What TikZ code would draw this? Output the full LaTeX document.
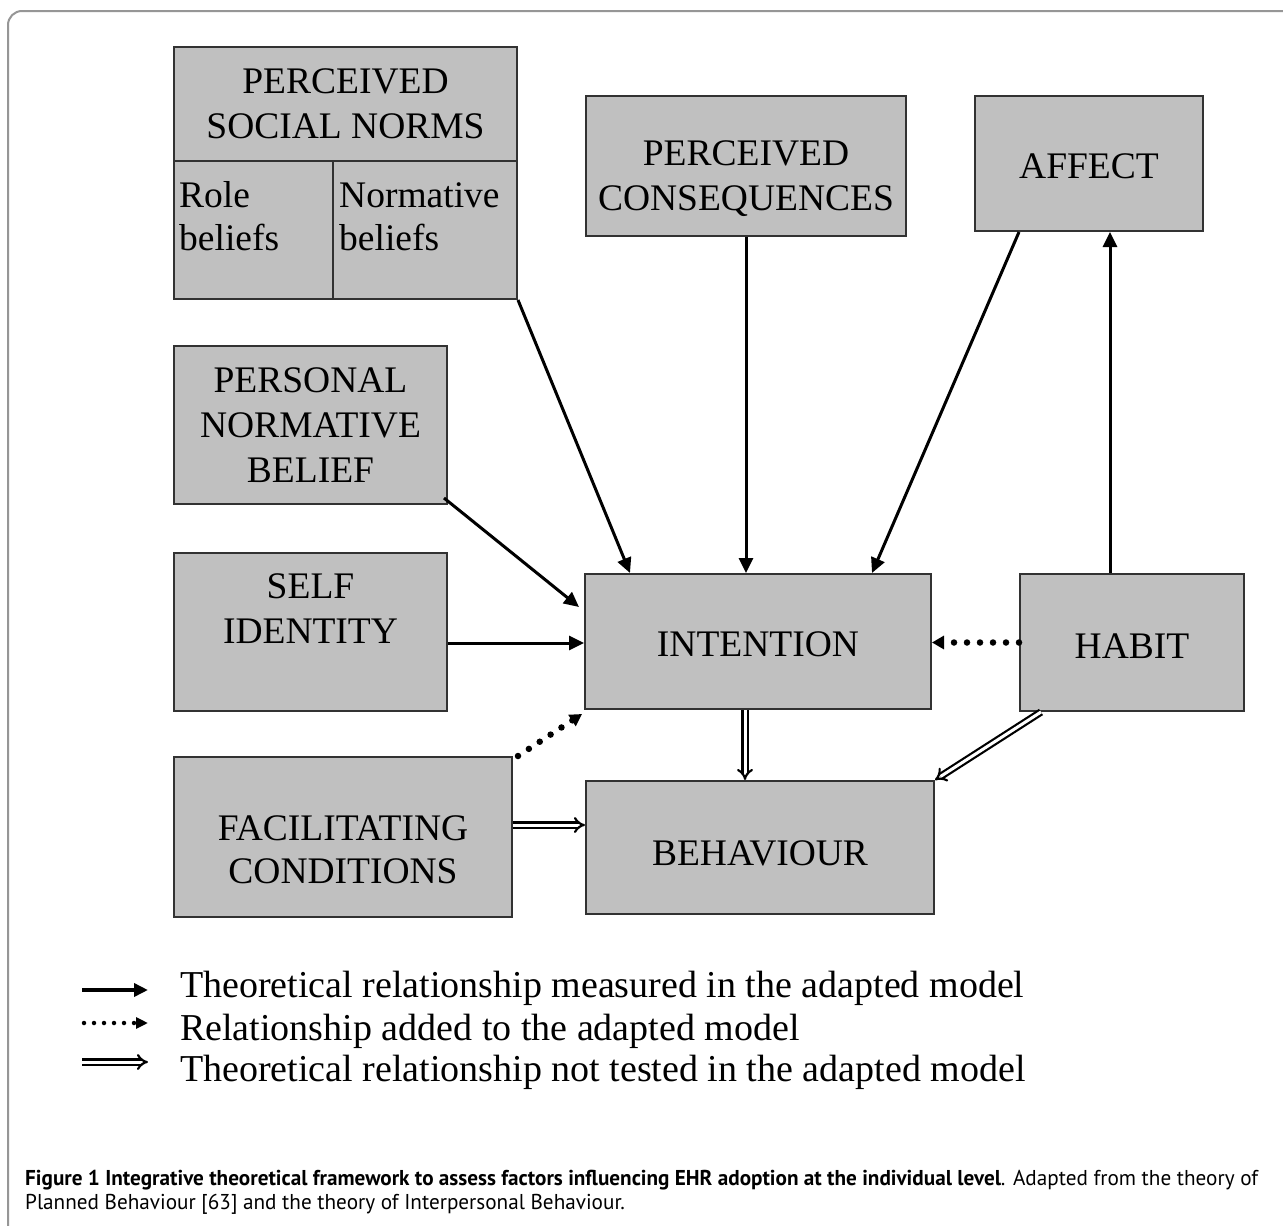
\documentclass[tikz,border=0pt]{standalone}
\usepackage{fontspec}
\setmainfont{Liberation Serif}
\newfontfamily\capfont{PT Sans}
\usetikzlibrary{arrows.meta,calc}
\definecolor{boxgray}{RGB}{192,192,192}
\definecolor{edgegray}{RGB}{50,50,50}
\definecolor{framegray}{RGB}{150,150,150}
\newlength\capw
\newcommand\capline{\textbf{Figure 1 Integrative theoretical framework to assess factors influencing EHR adoption at the individual level}. Adapted from the theory of}
\begin{document}
\settowidth\capw{\capfont\fontsize{21.5}{27}\selectfont\capline}
\pgfmathsetmacro\capsx{1233/\capw}
\begin{tikzpicture}[x=1pt,y=-1pt,
  box/.style={rectangle,draw=edgegray,fill=boxgray,line width=2pt,inner sep=0pt},
  txt/.style={anchor=base,inner sep=0pt,font=\fontsize{37.5}{45}\selectfont},
  txtw/.style={anchor=base west,inner sep=0pt,font=\fontsize{37.5}{45}\selectfont},
  lgd/.style={anchor=base west,inner sep=0pt,font=\fontsize{38}{45}\selectfont},
  capt/.style={anchor=base west,inner sep=0pt},
  solidarr/.style={line width=3pt,-{Triangle[length=15pt,width=14pt]}},
  dotarr/.style={line width=6.5pt,line cap=round,dash pattern=on 0pt off 13pt,-{Triangle[length=12pt,width=13pt]}},
  dblarr/.style={line width=2.2pt,double=white,double distance=3pt,-{Implies[scale=1.3]}},
  lsolid/.style={line width=3.5pt,-{Triangle[length=14pt,width=13pt]}},
  ldot/.style={line width=4.5pt,line cap=round,dash pattern=on 0pt off 10pt,-{Triangle[length=12pt,width=11pt]}},
  ldbl/.style={line width=2.2pt,double=white,double distance=3pt,-{Implies[scale=1.3]}}
]
\useasboundingbox (0,0) rectangle (1283,1226);
\fill[white] (0,0) rectangle (1283,1226);
% frame
\draw[framegray,line width=2pt,rounded corners=14pt] (8,1240) -- (8,11) -- (1300,11);

% boxes
\node[box,minimum width=343pt,minimum height=252pt] (psn) at (345.5,173) {};
\node[box,minimum width=320pt,minimum height=140pt] (pc) at (746,166) {};
\node[box,minimum width=228pt,minimum height=135pt] (aff) at (1089,163.5) {};
\node[box,minimum width=273pt,minimum height=158pt] (pnb) at (310.5,425) {};
\node[box,minimum width=273pt,minimum height=158pt] (self) at (310.5,632) {};
\node[box,minimum width=346pt,minimum height=135pt] (int) at (758,641.5) {};
\node[box,minimum width=224pt,minimum height=137pt] (hab) at (1132,642.5) {};
\node[box,minimum width=338pt,minimum height=160pt] (fc) at (343,837) {};
\node[box,minimum width=348pt,minimum height=133pt] (beh) at (760,847.5) {};

% PSN dividers
\draw[edgegray,line width=2pt] ($(psn.north west)+(0,115)$) -- ($(psn.north east)+(0,115)$);
\draw[edgegray,line width=2pt] ($(psn.north west)+(160,115)$) -- ($(psn.south west)+(160,0)$);

% texts
\node[txt] (psn1) at (345.5,93) {PERCEIVED};
\node[txt] (psn2) at (345.5,138) {SOCIAL NORMS};
\node[txtw] (rb1) at (179,207) {Role};
\node[txtw] (rb2) at (179,250) {beliefs};
\node[txtw] (nb1) at (339,207) {Normative};
\node[txtw] (nb2) at (339,250) {beliefs};
\node[txt] (pc1) at (746,165) {PERCEIVED};
\node[txt] (pc2) at (746,210) {CONSEQUENCES};
\node[txt] (aff1) at (1089,178) {AFFECT};
\node[txt] (pnb1) at (310.5,392) {PERSONAL};
\node[txt] (pnb2) at (310.5,437) {NORMATIVE};
\node[txt] (pnb3) at (310.5,482) {BELIEF};
\node[txt] (self1) at (310.5,598) {SELF};
\node[txt] (self2) at (310.5,643) {IDENTITY};
\node[txt] (int1) at (758,656) {INTENTION};
\node[txt] (hab1) at (1132,658) {HABIT};
\node[txt] (fc1) at (343,840) {FACILITATING};
\node[txt] (fc2) at (343,883) {CONDITIONS};
\node[txt] (beh1) at (760,865) {BEHAVIOUR};

% connectors
\coordinate (hA) at ($(hab.north west)+(91,0)$);
\coordinate (iB) at ($(int.south west)+(161,0)$);
\coordinate (fC) at ($(fc.east)+(0,-12)$);
\coordinate (sD) at ($(self.east)+(0,11)$);
\draw[solidarr] (psn.south east) -- ($(int.north west)+(46,0)$);
\draw[solidarr] (pc.south) -- (int.north -| pc.south);
\draw[solidarr] ($(aff.south west)+(45,0)$) -- ($(int.north west)+(288,0)$);
\draw[solidarr] ($(pnb.south east)+(-4,-7)$) -- ($(int.north west)+(-5,34)$);
\draw[solidarr] (sD) -- (int.west |- sD);
\draw[dotarr] ($(fc.north east)+(5,0)$) -- ($(int.south west)+(-2,4)$);
\draw[dotarr] (hab.west) -- (int.east |- hab.west);
\draw[solidarr] (hA) -- (aff.south -| hA);
\draw[dblarr] (iB) -- (beh.north -| iB);
\draw[dblarr] ($(hab.south west)+(22,0)$) -- (beh.north east);
\draw[dblarr] (fC) -- (beh.west |- fC);

% legend
\coordinate (l1s) at (82,990); \coordinate (l1e) at (148,990);
\coordinate (l2s) at (84,1023); \coordinate (l2e) at (148,1023);
\coordinate (l3s) at (82,1062); \coordinate (l3e) at (148,1062);
\draw[lsolid] (l1s) -- (l1e);
\draw[ldot] (l2s) -- (l2e);
\draw[ldbl] (l3s) -- (l3e);
\node[lgd] (lg1) at (180,997) {Theoretical relationship measured in the adapted model};
\node[lgd] (lg2) at (180,1040) {Relationship added to the adapted model};
\node[lgd] (lg3) at (180,1081) {Theoretical relationship not tested in the adapted model};

% caption
\node[capt] (cap1) at (25,1185) {\scalebox{\capsx}[1]{\capfont\fontsize{21.5}{27}\selectfont\capline}};
\node[capt] (cap2) at (25,1209) {\scalebox{\capsx}[1]{\capfont\fontsize{21.5}{27}\selectfont Planned Behaviour [63] and the theory of Interpersonal Behaviour.}};
\end{tikzpicture}
\end{document}
